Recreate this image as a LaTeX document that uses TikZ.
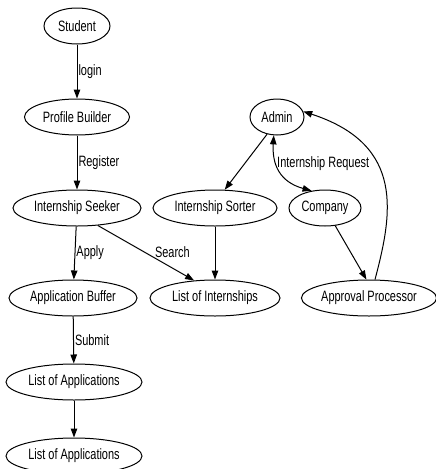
\documentclass[tikz,border=0pt]{standalone}
\usepackage{fontspec}
\setmainfont{Liberation Sans}[FakeStretch=0.73]
\usetikzlibrary{shapes.geometric,arrows.meta}
\begin{document}
\begin{tikzpicture}[x=1pt,y=-1pt,
  proc/.style={ellipse,draw,line width=1pt,inner sep=0pt,font=\fontsize{15}{17}\selectfont},
  arr/.style={line width=1pt,-{Triangle[length=9pt,width=6.5pt]}},
  lbl/.style={font=\fontsize{15}{17}\selectfont,inner sep=1pt}]
\useasboundingbox (0,0) rectangle (436,469);
\node[proc,minimum width=66pt,minimum height=36pt] (student) at (77,26) {Student};
\node[proc,minimum width=105pt,minimum height=36pt] (profile) at (77,117) {Profile Builder};
\node[proc,minimum width=128pt,minimum height=36pt] (seeker) at (77,208) {Internship Seeker};
\node[proc,minimum width=124pt,minimum height=36pt] (sorter) at (215,208) {Internship Sorter};
\node[proc,minimum width=54pt,minimum height=36pt] (admin) at (277,117) {Admin};
\node[proc,minimum width=72pt,minimum height=36pt] (company) at (325,208) {Company};
\node[proc,minimum width=128pt,minimum height=36pt] (buffer) at (73,298) {Application Buffer};
\node[proc,minimum width=130pt,minimum height=36pt] (listint) at (215,298) {List of Internships};
\node[proc,minimum width=134pt,minimum height=36pt] (approval) at (369,298) {Approval Processor};
\node[proc,minimum width=136pt,minimum height=36pt] (listapp1) at (74,382) {List of Applications};
\node[proc,minimum width=136pt,minimum height=36pt] (listapp2) at (74,456) {List of Applications};

\draw[arr] (student) -- node[lbl,right] {login} (profile);
\draw[arr] (profile) -- node[lbl,right] {Register} (seeker);
\draw[arr] (seeker) -- node[lbl,right] {Apply} (buffer);
\draw[arr] (seeker.-40) -- node[lbl,pos=0.62,above right,xshift=-4pt] {Search} (listint.140);
\draw[arr] (sorter) -- (listint);
\draw[arr] (admin.-120) -- (sorter.62);
\draw[line width=1pt,{Triangle[length=9pt,width=6.5pt]}-{Triangle[length=9pt,width=6.5pt]}] (admin.-100) .. controls (272,165) and (280,182) .. node[lbl,pos=0.38,right,xshift=-1pt] {Internship Request} (company.128);
\draw[arr] (company.-60) -- (approval.98);
\draw[arr] (approval.72) .. controls (392,215) and (406,145) .. (admin.12);
\draw[arr] (buffer) -- node[lbl,right] {Submit} (listapp1);
\draw[arr] (listapp1) -- (listapp2);
\end{tikzpicture}
\end{document}
